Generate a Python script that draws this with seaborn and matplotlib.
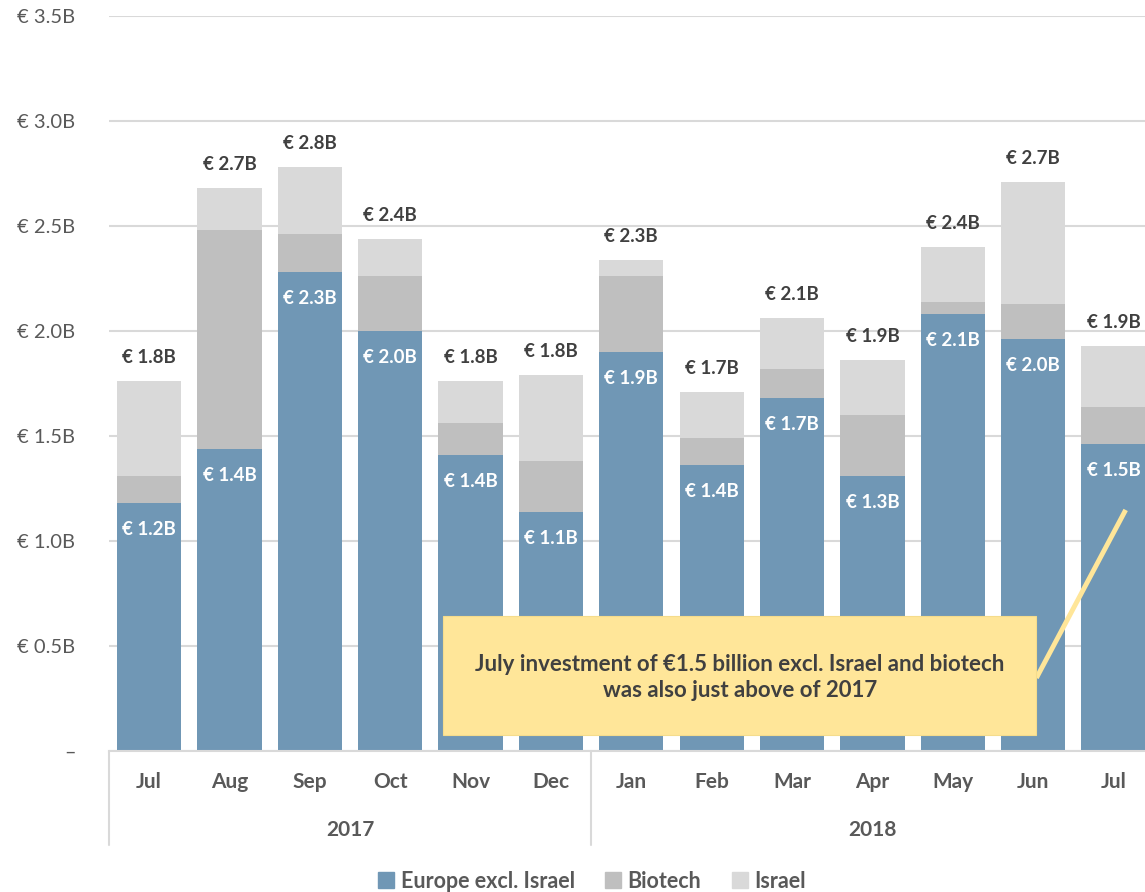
import matplotlib
matplotlib.use("Agg")
import matplotlib.pyplot as plt
import matplotlib.transforms as mtransforms
from matplotlib.patches import Patch, Rectangle
import numpy as np
import pandas as pd
import seaborn as sns

# Monthly investment, EUR billions
periods = ["2017-07", "2017-08", "2017-09", "2017-10", "2017-11", "2017-12",
           "2018-01", "2018-02", "2018-03", "2018-04", "2018-05", "2018-06", "2018-07"]
months = ["Jul", "Aug", "Sep", "Oct", "Nov", "Dec",
          "Jan", "Feb", "Mar", "Apr", "May", "Jun", "Jul"]
years = ["2017", "2018"]
europe = [1.18, 1.44, 2.28, 2.00, 1.41, 1.14, 1.90, 1.36, 1.68, 1.31, 2.08, 1.96, 1.46]
biotech = [0.13, 1.04, 0.18, 0.26, 0.15, 0.24, 0.36, 0.13, 0.14, 0.29, 0.06, 0.17, 0.18]
israel = [0.45, 0.20, 0.32, 0.18, 0.20, 0.41, 0.08, 0.22, 0.24, 0.26, 0.26, 0.58, 0.29]
series_names = ["Europe excl. Israel", "Biotech", "Israel"]
yticks = [0, 0.5, 1.0, 1.5, 2.0, 2.5, 3.0, 3.5]
note = "July investment of €1.5 billion excl. Israel and biotech\nwas also just above of 2017"

df = pd.DataFrame({"period": periods, "europe": europe, "biotech": biotech, "israel": israel})
df["eu_bio"] = df["europe"] + df["biotech"]
df["total"] = df["eu_bio"] + df["israel"]

c_eu = "#7097B5"
c_bio = "#BFBFBF"
c_isr = "#D9D9D9"
grid_c = "#D9D9D9"
txt_c = "#595959"
lab_c = "#404040"

sns.set_theme(style="white")
plt.rcParams["font.family"] = ["Lato", "DejaVu Sans"]

fig = plt.figure(figsize=(11.45, 8.92), dpi=100)
ax = fig.add_axes([108.8 / 1145, 141 / 892, 1045 / 1145, 735 / 892])

# stacked bars: draw cumulative totals from the top down
for col, c in [("total", c_isr), ("eu_bio", c_bio), ("europe", c_eu)]:
    sns.barplot(data=df, x="period", y=col, order=periods, color=c, saturation=1,
                width=0.8, errorbar=None, linewidth=0, ax=ax)

ax.set_xlim(-0.5, 12.5)
ax.set_ylim(0, 3.5)
ax.set_xlabel("")
ax.set_ylabel("")

ax.set_yticks(yticks)
ax.set_yticklabels(["–"] + [f"€ {v:.1f}B" for v in yticks[1:]])
ax.tick_params(axis="y", length=0, pad=24, labelsize=14.5, labelcolor=txt_c)
ax.yaxis.grid(True, color=grid_c, lw=1.5)
ax.set_axisbelow(True)

ax.set_xticks(range(len(months)))
ax.set_xticklabels(months, fontweight="bold")
ax.tick_params(axis="x", length=0, pad=15, labelsize=15, labelcolor=txt_c)

sns.despine(ax=ax, left=True, top=True, right=True)
ax.spines["bottom"].set_color(grid_c)
ax.spines["bottom"].set_linewidth(1.5)

# year grouping under the months
trans = mtransforms.blended_transform_factory(ax.transData, ax.transAxes)
for xv in [-0.5, 5.5, 12.5]:
    ax.plot([xv, xv], [0, -0.128], transform=trans, clip_on=False, color=grid_c, lw=1.5)
for xv, yr in zip([2.5, 9.0], years):
    ax.text(xv, -0.107, yr, transform=trans, ha="center", va="center",
            fontsize=15, fontweight="bold", color=txt_c)

# data labels
for i in range(len(periods)):
    tot = df["total"][i]
    ax.annotate(f"€ {tot:.1f}B", xy=(i, tot), xytext=(0, 13), textcoords="offset points",
                ha="center", va="baseline", fontsize=13.5, fontweight="bold", color=lab_c)
    eu = df["europe"][i]
    ax.annotate(f"€ {eu:.1f}B", xy=(i, eu), xytext=(0, -23), textcoords="offset points",
                ha="center", va="baseline", fontsize=13.5, fontweight="bold", color="white")

# callout
ax.plot([11.04, 12.15], [0.348, 1.148], color="#FFE699", lw=3.5, zorder=4,
        solid_capstyle="butt")
ax.add_patch(Rectangle((3.657, 0.076), 7.383, 0.568, facecolor="#FFE699",
                       edgecolor="#F5DC8C", lw=0.8, zorder=5))
ax.text(7.35, 0.352, note, ha="center", va="center", fontsize=16, fontweight="bold",
        color=lab_c, linespacing=1.3, zorder=6)

handles = [Patch(color=c) for c in [c_eu, c_bio, c_isr]]
leg = fig.legend(handles, series_names, loc="center", bbox_to_anchor=(592 / 1145, 1 - 881 / 892),
                 ncol=3, frameon=False, handlelength=0.75, handleheight=0.75,
                 handletextpad=0.3, columnspacing=1.4, prop=dict(weight="bold", size=15.5))
for t in leg.get_texts():
    t.set_color(txt_c)

fig.savefig("out.png", dpi=100)
